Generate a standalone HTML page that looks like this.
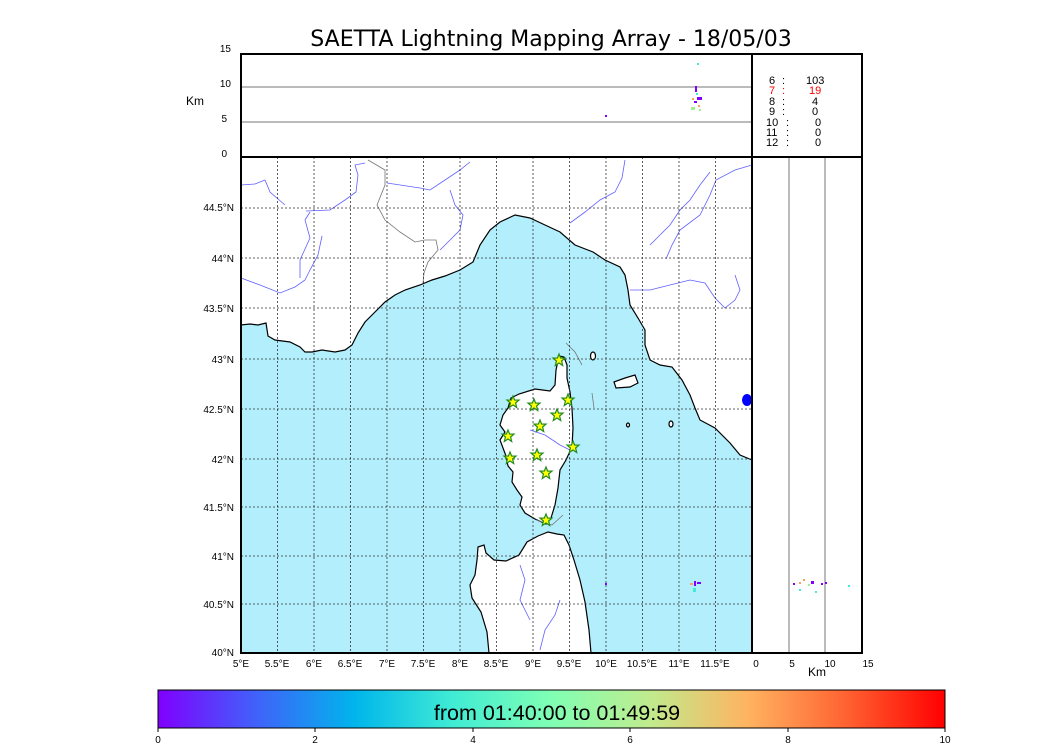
<!DOCTYPE html>
<html><head><meta charset="utf-8"><style>
html,body{margin:0;padding:0;background:#fff;}
svg{display:block;font-family:"Liberation Sans","DejaVu Sans",sans-serif;}
</style></head><body>
<svg width="1050" height="750" viewBox="0 0 1050 750" xmlns="http://www.w3.org/2000/svg">
<defs>
<linearGradient id="cb" x1="0" x2="1" y1="0" y2="0">
<stop offset="0" stop-color="#8000ff"/>
<stop offset="0.125" stop-color="#4062fa"/>
<stop offset="0.25" stop-color="#00b5eb"/>
<stop offset="0.375" stop-color="#40ecd4"/>
<stop offset="0.5" stop-color="#80ffb4"/>
<stop offset="0.625" stop-color="#c0eb8d"/>
<stop offset="0.75" stop-color="#ffb360"/>
<stop offset="0.875" stop-color="#ff6231"/>
<stop offset="1" stop-color="#ff0000"/>
</linearGradient>
<g id="star"><polygon points="0,-6 1.6,-2 6,-1.9 2.6,1 3.7,5.5 0,3 -3.7,5.5 -2.6,1 -6,-1.9 -1.6,-2" fill="#ffff00" stroke="#228b22" stroke-width="1.2"/></g>
</defs>
<text x="551" y="46" font-size="22" text-anchor="middle" font-family="DejaVu Sans, sans-serif">SAETTA Lightning Mapping Array - 18/05/03</text>

<!-- Map -->
<rect x="241" y="157" width="511" height="496" fill="#b3eefc"/>
<g fill="#fff" stroke="#000" stroke-width="1.2">
<polygon points="241,157 752,157 752,460 740,455 730,443 715,428 700,420 695,408 690,395 682,380 672,367 660,365 650,360 645,345 645,330 638,318 630,305 628,290 625,275 620,267 605,260 593,252 575,245 560,232 545,225 530,218 515,215 500,222 490,230 480,245 473,262 460,270 445,276 432,280 420,285 405,290 395,295 385,302 375,312 365,322 358,333 352,345 345,350 335,352 322,350 312,352 305,352 300,347 290,342 275,340 268,336 266,323 258,325 250,324 241,325"/>
<polygon points="559,356 564,357 567,365 567,378 570,392 572,408 573,428 572,447 566,460 560,470 558,488 555,505 551,518 546,524 535,519 525,513 520,505 522,497 517,490 512,482 513,472 508,466 506,456 503,448 500,440 505,432 500,425 503,415 508,408 511,398 519,394 535,389 550,391 555,385 556,370"/>
<polygon points="489,653 487,632 481,612 472,598 470,585 475,575 477,560 478,547 484,545 486,553 494,560 506,561 519,555 527,542 538,536 548,532 557,534 564,535 569,545 574,560 580,580 585,602 589,630 591,653"/>
<polygon points="614,382 625,378 635,375 638,383 630,387 616,388"/>
<ellipse cx="593" cy="356" rx="2.5" ry="4"/>
<ellipse cx="628" cy="425" rx="1.5" ry="2"/>
<ellipse cx="671" cy="424" rx="2" ry="3"/>
</g>
<ellipse cx="747" cy="400" rx="5" ry="6" fill="#0000ff"/>
<!-- rivers -->
<g fill="none" stroke="#6060ff" stroke-width="0.8">
<polyline points="241,185 255,184 265,180 270,192 285,205"/>
<polyline points="241,278 260,285 280,293 295,287 305,280 310,270 318,255 322,236"/>
<polyline points="306,211 330,210 345,200 356,192 358,175 355,165 365,163"/>
<polyline points="300,278 300,260 310,238 305,220 310,212"/>
<polyline points="387,183 420,188 430,190 445,180 460,170 470,162"/>
<polyline points="450,190 455,205 463,215 460,230 450,240 440,250"/>
<polyline points="570,223 585,212 600,200 615,192 622,178 625,160"/>
<polyline points="650,245 660,235 670,225 680,210 690,200 700,185 710,172"/>
<polyline points="666,259 672,245 680,230 700,215 710,195 716,180 735,170 752,165"/>
<polyline points="630,290 650,290 670,285 690,280 705,283 715,298 725,308 735,300 740,290 735,275"/>
<polyline points="530,430 545,435 560,445 570,450"/>
<polyline points="520,565 525,580 520,600 530,620"/>
<polyline points="540,650 545,630 555,615 560,600"/>
</g>
<g fill="none" stroke="#777" stroke-width="0.8">
<polyline points="368,160 385,170 385,185 377,205 385,220 400,232 415,242 425,240 436,240 438,250 428,262 424,273 423,283"/>
<polyline points="566,343 575,352 582,365"/>
<polyline points="592,393 594,408"/>
<polyline points="536,520 552,525 563,515"/>
</g>
<!-- grid -->
<g stroke="#333" stroke-width="0.8" stroke-dasharray="2,2">
<line x1="277.5" y1="157" x2="277.5" y2="653"/><line x1="314" y1="157" x2="314" y2="653"/><line x1="350.5" y1="157" x2="350.5" y2="653"/><line x1="387" y1="157" x2="387" y2="653"/><line x1="423.5" y1="157" x2="423.5" y2="653"/><line x1="460" y1="157" x2="460" y2="653"/><line x1="496.5" y1="157" x2="496.5" y2="653"/><line x1="533" y1="157" x2="533" y2="653"/><line x1="569.5" y1="157" x2="569.5" y2="653"/><line x1="606" y1="157" x2="606" y2="653"/><line x1="642.5" y1="157" x2="642.5" y2="653"/><line x1="679" y1="157" x2="679" y2="653"/><line x1="715.5" y1="157" x2="715.5" y2="653"/>
<line x1="241" y1="208" x2="752" y2="208"/><line x1="241" y1="258" x2="752" y2="258"/><line x1="241" y1="308" x2="752" y2="308"/><line x1="241" y1="359" x2="752" y2="359"/><line x1="241" y1="409" x2="752" y2="409"/><line x1="241" y1="459" x2="752" y2="459"/><line x1="241" y1="507" x2="752" y2="507"/><line x1="241" y1="556" x2="752" y2="556"/><line x1="241" y1="604" x2="752" y2="604"/>
</g>
<g>
<use href="#star" x="559" y="360"/><use href="#star" x="513" y="402"/><use href="#star" x="534" y="405"/><use href="#star" x="568" y="400"/><use href="#star" x="557" y="415"/><use href="#star" x="540" y="426"/><use href="#star" x="508" y="436"/><use href="#star" x="510" y="458"/><use href="#star" x="537" y="455"/><use href="#star" x="573" y="447"/><use href="#star" x="546" y="473"/><use href="#star" x="546" y="520"/>
</g>
<g>
<rect x="605" y="583" width="2" height="2" fill="#8000ff"/>
<rect x="694" y="581" width="2" height="5" fill="#8000ff"/>
<rect x="690" y="583" width="3" height="2" fill="#ffa060"/>
<rect x="697" y="582" width="4" height="2" fill="#8000ff"/>
<rect x="693" y="588" width="3" height="4" fill="#40ecd4"/>
</g>

<!-- top panel -->
<line x1="241" y1="87" x2="752" y2="87" stroke="#777" stroke-width="1"/>
<line x1="241" y1="122" x2="752" y2="122" stroke="#777" stroke-width="1"/>
<g>
<rect x="697" y="63" width="2" height="2" fill="#40ecd4"/>
<rect x="695" y="86" width="2" height="6" fill="#8000ff"/>
<rect x="696" y="93" width="2" height="2" fill="#40ecd4"/>
<rect x="697" y="97" width="5" height="3" fill="#8000ff"/>
<rect x="692" y="98" width="2" height="2" fill="#ffa060"/>
<rect x="694" y="101" width="3" height="2" fill="#8000ff"/>
<rect x="698" y="105" width="2" height="2" fill="#ffa060"/>
<rect x="691" y="107" width="4" height="3" fill="#9ef08a"/>
<rect x="699" y="109" width="2" height="2" fill="#9ef08a"/>
<rect x="605" y="115" width="2" height="2" fill="#8000ff"/>
</g>
<!-- right panel -->
<line x1="789" y1="157" x2="789" y2="653" stroke="#777"/>
<line x1="825" y1="157" x2="825" y2="653" stroke="#777"/>
<g>
<rect x="793" y="583" width="2" height="2" fill="#8000ff"/><rect x="799" y="582" width="2" height="2" fill="#ffa060"/><rect x="803" y="579" width="2" height="2" fill="#ffa060"/><rect x="799" y="589" width="2" height="2" fill="#40ecd4"/><rect x="808" y="584" width="2" height="2" fill="#9ef08a"/><rect x="811" y="581" width="3" height="3" fill="#8000ff"/><rect x="815" y="591" width="2" height="2" fill="#40ecd4"/><rect x="821" y="583" width="2" height="2" fill="#8000ff"/><rect x="825" y="582" width="2" height="2" fill="#8000ff"/><rect x="848" y="585" width="2" height="2" fill="#40ecd4"/>
</g>

<!-- frames -->
<g fill="none" stroke="#000" stroke-width="2">
<rect x="241" y="54" width="621" height="599"/>
<line x1="241" y1="157" x2="862" y2="157"/>
<line x1="752" y1="54" x2="752" y2="653"/>
</g>

<!-- counts -->
<g font-size="11">
<text x="769" y="84">6</text><text x="782" y="84">:</text><text x="806" y="84">103</text>
<g fill="#ff0000"><text x="769" y="94">7</text><text x="782" y="94">:</text><text x="809" y="94">19</text></g>
<text x="769" y="105">8</text><text x="782" y="105">:</text><text x="812" y="105">4</text>
<text x="769" y="115">9</text><text x="782" y="115">:</text><text x="812" y="115">0</text>
<text x="766" y="126">10</text><text x="786" y="126">:</text><text x="815" y="126">0</text>
<text x="766" y="136">11</text><text x="786" y="136">:</text><text x="815" y="136">0</text>
<text x="766" y="146">12</text><text x="786" y="146">:</text><text x="815" y="146">0</text>
</g>

<!-- axis labels -->
<g font-size="10" text-anchor="end">
<text x="231" y="52">15</text><text x="231" y="87">10</text><text x="227" y="122">5</text><text x="227" y="157">0</text>
<text x="234" y="211">44.5°N</text><text x="234" y="262">44°N</text><text x="234" y="312">43.5°N</text><text x="234" y="363">43°N</text><text x="234" y="413">42.5°N</text><text x="234" y="463">42°N</text><text x="234" y="511">41.5°N</text><text x="234" y="560">41°N</text><text x="234" y="608">40.5°N</text><text x="234" y="656">40°N</text>
</g>
<text x="186" y="105" font-size="12">Km</text>
<g font-size="10" text-anchor="middle">
<text x="241" y="667">5°E</text><text x="277" y="667">5.5°E</text><text x="314" y="667">6°E</text><text x="350" y="667">6.5°E</text><text x="387" y="667">7°E</text><text x="423" y="667">7.5°E</text><text x="460" y="667">8°E</text><text x="496" y="667">8.5°E</text><text x="533" y="667">9°E</text><text x="569" y="667">9.5°E</text><text x="606" y="667">10°E</text><text x="642" y="667">10.5°E</text><text x="679" y="667">11°E</text><text x="715" y="667">11.5°E</text>
<text x="756" y="667">0</text><text x="792" y="667">5</text><text x="830" y="667">10</text><text x="868" y="667">15</text>
</g>
<text x="817" y="676" font-size="12" text-anchor="middle">Km</text>

<!-- colorbar -->
<rect x="158" y="690" width="787" height="38" fill="url(#cb)" stroke="#000" stroke-width="1"/>
<text x="557" y="720" font-size="21.5" text-anchor="middle">from 01:40:00 to 01:49:59</text>
<g stroke="#000"><line x1="158" y1="728" x2="158" y2="732"/><line x1="315" y1="728" x2="315" y2="732"/><line x1="473" y1="728" x2="473" y2="732"/><line x1="630" y1="728" x2="630" y2="732"/><line x1="788" y1="728" x2="788" y2="732"/><line x1="945" y1="728" x2="945" y2="732"/></g>
<g font-size="10" text-anchor="middle">
<text x="158" y="743">0</text><text x="315" y="743">2</text><text x="473" y="743">4</text><text x="630" y="743">6</text><text x="788" y="743">8</text><text x="945" y="743">10</text>
</g>
</svg>
</body></html>
